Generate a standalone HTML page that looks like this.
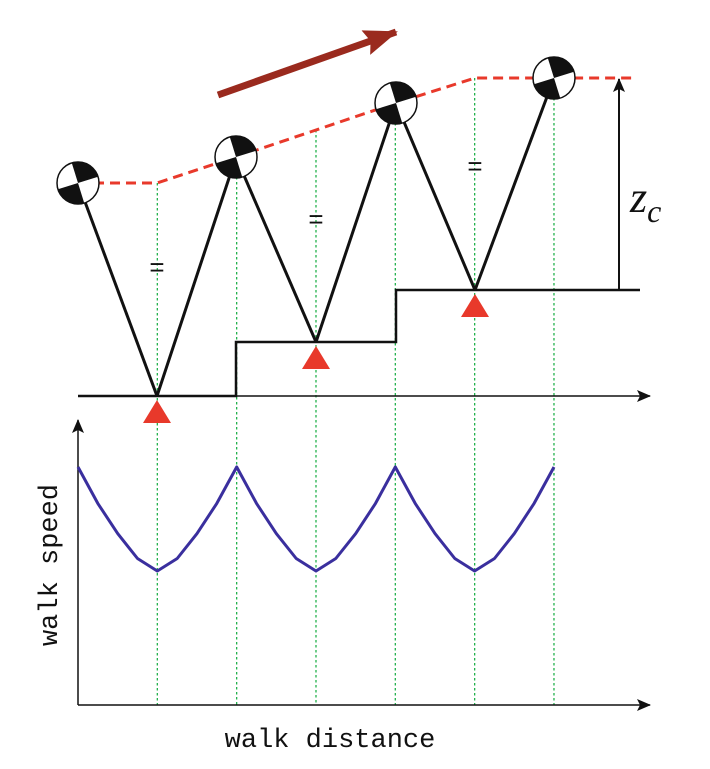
<!DOCTYPE html>
<html><head><meta charset="utf-8"><style>
html,body{margin:0;padding:0;background:#fff;}
svg{display:block;}
</style></head><body>
<svg id="chart" width="710" height="769" viewBox="0 0 710 769" xmlns="http://www.w3.org/2000/svg">
<defs>
<marker id="ah" markerWidth="14" markerHeight="12" refX="13" refY="6" orient="auto" markerUnits="userSpaceOnUse"><path d="M0,0 L14,6 L0,12 L3,6 Z" fill="#111"/></marker>
<marker id="ahb" markerWidth="34" markerHeight="26" refX="32" refY="13" orient="auto" markerUnits="userSpaceOnUse"><path d="M0,0 L34,13 L0,26 L5,13 Z" fill="#9a2a1e"/></marker>
</defs>
<g id="guides"></g>
<g id="topg"></g>
<g id="bottomg"></g>
<line x1="218" y1="95" x2="396" y2="32" stroke="#9a2a1e" stroke-width="7" marker-end="url(#ahb)"/>
<line x1="619" y1="290" x2="619" y2="79" stroke="#111" stroke-width="2" marker-end="url(#ah)"/>
<text x="630" y="212" font-family="Liberation Serif, serif" font-style="italic" font-size="44" fill="#111">z<tspan font-size="32" dy="10">c</tspan></text>
<text x="330" y="747" text-anchor="middle" font-family="Liberation Mono, monospace" font-size="27" fill="#111">walk distance</text>
<text transform="translate(57,565) rotate(-90)" text-anchor="middle" font-family="Liberation Mono, monospace" font-size="27" fill="#111">walk speed</text>
</svg>
<script>
// data
const hipX = [78, 236, 396, 554];       // hip positions (distance)
const hipZ = [183, 157, 103, 78];        // hip heights (screen)
const footX = [157, 316, 475];
const groundLevels = [396, 342, 290];
const halfSteps = 6;
const speedProfile = [1, 0.65, 0.36, 0.12, 0, 0.12, 0.36, 0.65, 1]; // per stride (peak->min->peak)
{
const NS = "http://www.w3.org/2000/svg";
function mk(tag, attrs, parent){const e=document.createElementNS(NS,tag);for(const k in attrs)e.setAttribute(k,attrs[k]);parent.appendChild(e);return e;}
const topG=document.getElementById('topg'), botG=document.getElementById('bottomg'), guideG=document.getElementById('guides');
const x0=78, xStep=79.33, yBase=705, yPeak=467, yMin=571;
const sx=d=>x0+d*xStep;
const sy=v=>yMin-(yMin-yPeak)*v;
// green guides
const guideTops=[183,157,130,103,78,78];
for(let i=1;i<=halfSteps;i++){
  const x=sx(i);
  const l=mk('line',{x1:x,y1:guideTops[i-1],x2:x,y2:yBase,stroke:'#22b14c','stroke-width':1.3,'stroke-dasharray':'2.5,2.5'},guideG);
  
  
}
// ground
const gpath=`M78,${groundLevels[0]} H236 V${groundLevels[1]} H396 V${groundLevels[2]} H640`;
const g=mk('path',{d:gpath,fill:'none',stroke:'#111','stroke-width':2.5},topG);


const ax=mk('line',{x1:236,y1:396,x2:650,y2:396,stroke:'#111','stroke-width':1.5,'marker-end':'url(#ah)'},topG);


// COM dashed line
const dpts=[[78,183],[157,183],[236,157],[396,103],[475,78],[635,78]];
const dl=mk('polyline',{points:dpts.map(p=>p.join(',')).join(' '),fill:'none',stroke:'#e8392b','stroke-width':3,'stroke-dasharray':'10,6'},topG);


// legs
const eqY=[268,220,167];
for(let i=0;i<footX.length;i++){
  const fy=groundLevels[i];
  [[hipX[i],hipZ[i]],[hipX[i+1],hipZ[i+1]]].forEach(h=>{
    const l=mk('line',{x1:h[0],y1:h[1],x2:footX[i],y2:fy,stroke:'#111','stroke-width':3},topG);
    
    
  });
  const t=mk('polygon',{points:`${footX[i]},${fy+4} ${footX[i]-14},${fy+27} ${footX[i]+14},${fy+27}`,fill:'#e8392b'},topG);
  
  
  const eq=mk('text',{x:footX[i],y:eqY[i]+8,'text-anchor':'middle','font-family':'Liberation Sans, sans-serif','font-size':26,fill:'#111'},topG);
  eq.textContent='=';
  
  
}
// hip markers
hipX.forEach((x,i)=>{
  const y=hipZ[i], r=21;
  const grp=mk('g',{},topG);
  
  
  mk('circle',{cx:x,cy:y,r:r,fill:'#fff',stroke:'#111','stroke-width':1.5},grp);
  const a=-0.3;
  const p=(ang)=>`${x+r*Math.cos(ang)},${y+r*Math.sin(ang)}`;
  mk('path',{d:`M${x},${y} L${p(-Math.PI/2+a)} A${r},${r} 0 0 1 ${p(a)} Z`,fill:'#111'},grp);
  mk('path',{d:`M${x},${y} L${p(Math.PI/2+a)} A${r},${r} 0 0 1 ${p(Math.PI+a)} Z`,fill:'#111'},grp);
});
// lower axes
const ya=mk('line',{x1:78,y1:705,x2:78,y2:420,stroke:'#111','stroke-width':1.5,'marker-end':'url(#ah)'},botG);


const xa=mk('line',{x1:78,y1:705,x2:650,y2:705,stroke:'#111','stroke-width':1.5,'marker-end':'url(#ah)'},botG);


// speed curve
const pts=[];
const nStride=halfSteps/2, n=speedProfile.length-1;
for(let s=0;s<nStride;s++){
  for(let k=(s===0?0:1);k<=n;k++){
    const d=s*2+k*2/n;
    pts.push(sx(d).toFixed(1)+','+sy(speedProfile[k]).toFixed(1));
  }
}
const c=mk('polyline',{points:pts.join(' '),fill:'none',stroke:'#3a2f9e','stroke-width':3,'stroke-linejoin':'round'},botG);


}
</script>
</body></html>
